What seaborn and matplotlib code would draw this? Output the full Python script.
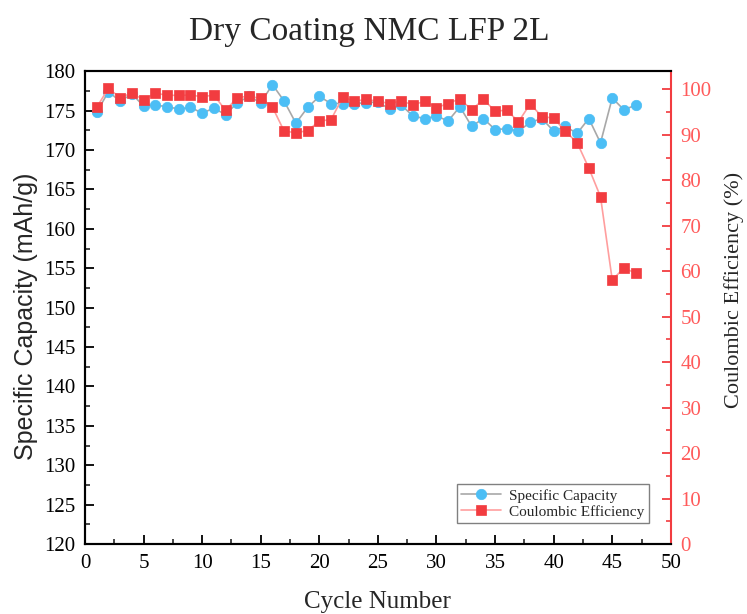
import numpy as np
import pandas as pd
import matplotlib
matplotlib.use("Agg")
import matplotlib.pyplot as plt
import seaborn as sns
from matplotlib.ticker import MultipleLocator

cycles = list(range(1, 48))
capacity = [174.8, 177.4, 176.2, 177.1, 175.6, 175.7, 175.5, 175.2, 175.4, 174.7,
            175.3, 174.5, 176.0, 176.8, 176.0, 178.3, 176.2, 173.4, 175.4, 176.8,
            175.9, 175.9, 175.9, 176.0, 176.1, 175.2, 175.7, 174.3, 174.0, 174.3,
            173.7, 175.5, 173.0, 174.0, 172.6, 172.7, 172.4, 173.5, 174.0, 172.4,
            173.0, 172.1, 174.0, 170.9, 176.6, 175.1, 175.7]
efficiency = [96.1, 100.2, 98.2, 99.2, 97.7, 99.2, 98.7, 98.7, 98.75, 98.4,
              98.75, 95.4, 98.2, 98.5, 98.0, 96.1, 90.8, 90.5, 90.9, 93.05,
              93.35, 98.3, 97.4, 97.8, 97.4, 96.9, 97.45, 96.6, 97.4, 96.0,
              96.9, 97.95, 95.5, 97.8, 95.25, 95.4, 92.9, 96.8, 94.0, 93.7,
              90.8, 88.3, 82.7, 76.4, 58.1, 60.7, 59.6]

df = pd.DataFrame({"cycle": cycles, "cap": capacity, "ce": efficiency})

sns.set_style("ticks")
plt.rcParams["font.family"] = ["Liberation Serif", "DejaVu Serif"]

SERIF = "Liberation Serif"
SANS = "Liberation Sans"
BLUE = "#4CBEF5"
RED = "#F23C40"
RED_TXT = "#FF5A5A"

fig = plt.figure(figsize=(7.47, 6.14), dpi=100)
ax = fig.add_subplot(111)
fig.subplots_adjust(left=0.1138, right=0.898, bottom=0.114, top=0.884)
ax2 = ax.twinx()

sns.lineplot(data=df, x="cycle", y="cap", ax=ax, color="#A8A8A8", linewidth=1.2,
             marker="o", markersize=7.5, markerfacecolor=BLUE, markeredgecolor=BLUE,
             markeredgewidth=0.5, label="Specific Capacity", legend=False)
sns.lineplot(data=df, x="cycle", y="ce", ax=ax2, color="#FF9E9E", linewidth=1.2,
             marker="s", markersize=7, markerfacecolor=RED, markeredgecolor=RED,
             markeredgewidth=0.5, label="Coulombic Efficiency", legend=False)

ax.set_xlim(0, 50)
ax.set_ylim(120, 180)
ax2.set_ylim(0, 104)

ax.xaxis.set_major_locator(MultipleLocator(5))
ax.xaxis.set_minor_locator(MultipleLocator(2.5))
ax.yaxis.set_major_locator(MultipleLocator(5))
ax.yaxis.set_minor_locator(MultipleLocator(2.5))
ax2.yaxis.set_major_locator(MultipleLocator(10))
ax2.yaxis.set_minor_locator(MultipleLocator(5))

for a in (ax, ax2):
    for s in a.spines.values():
        s.set_linewidth(1.5)
        s.set_color("black")
    a.spines["top"].set_visible(True)
ax2.spines["right"].set_color(RED)
ax.spines["right"].set_visible(False)

ax.tick_params(axis="both", which="major", direction="in", length=6.5, width=1.3,
               labelsize=15, colors="black", pad=7)
ax.tick_params(axis="both", which="minor", direction="in", length=3.5, width=1.2)
ax.tick_params(top=False, right=False, which="both")
ax2.tick_params(axis="y", which="major", direction="in", length=6.5, width=1.3,
                labelsize=15, colors=RED, labelcolor=RED_TXT, pad=7)
ax2.tick_params(axis="y", which="minor", direction="in", length=3.5, width=1.2, colors=RED)

for lab in ax.get_xticklabels() + ax.get_yticklabels() + ax2.get_yticklabels():
    lab.set_fontfamily(SERIF)

ax.set_xlabel("Cycle Number", fontsize=18, fontfamily=SERIF, labelpad=13)
ax.set_ylabel("Specific Capacity (mAh/g)", fontsize=18, fontfamily=SANS, labelpad=4)
ax2.set_ylabel("Coulombic Efficiency (%)", fontsize=16, fontfamily=SERIF, labelpad=9)
ax.yaxis.label.set_y(0.482)
ax2.yaxis.label.set_y(0.537)

fig.text(0.4946, 0.935, "Dry Coating NMC LFP 2L", fontsize=24, fontfamily=SERIF,
         ha="center", va="baseline")

h1, l1 = ax.get_legend_handles_labels()
h2, l2 = ax2.get_legend_handles_labels()
leg = ax2.legend(h1 + h2, l1 + l2, loc="lower right", bbox_to_anchor=(0.962, 0.044),
                 frameon=True, fancybox=False, edgecolor="#808080", framealpha=1,
                 prop={"family": SERIF, "size": 11}, handlelength=2.6,
                 borderpad=0.3, labelspacing=0.15, handletextpad=0.5, borderaxespad=0)
leg.get_frame().set_linewidth(1.0)

fig.savefig("out.png", dpi=100)
